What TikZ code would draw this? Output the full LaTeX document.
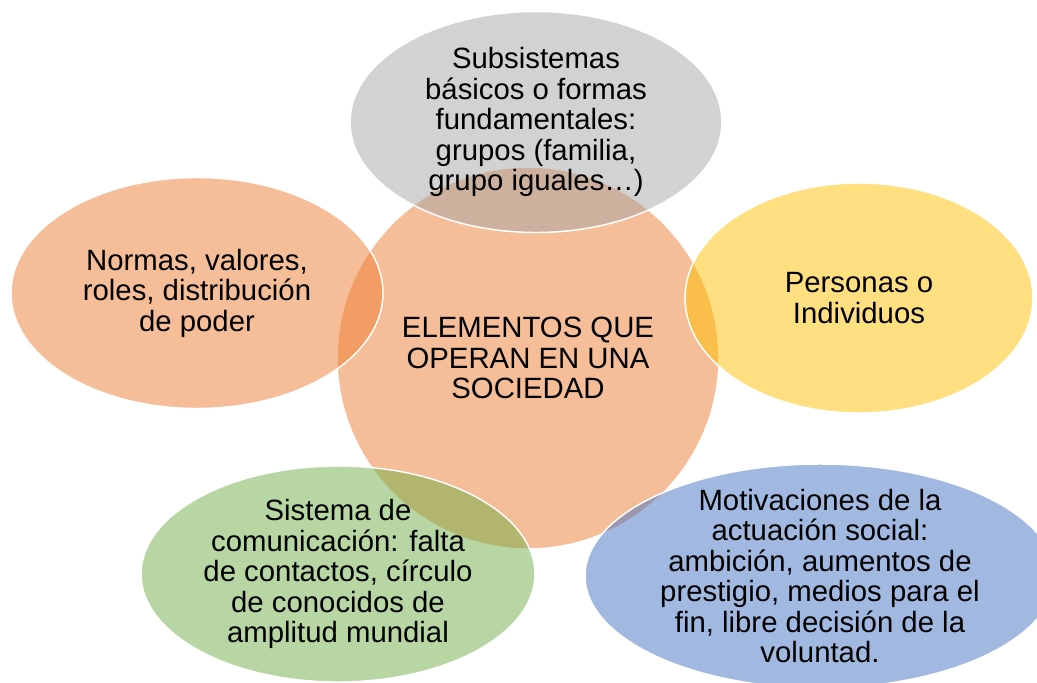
\documentclass[tikz,border=0pt]{standalone}
\usepackage{fontspec}
\setmainfont{Liberation Sans}
\usepackage{tikz}
\usetikzlibrary{shapes.geometric}
\definecolor{accorange}{HTML}{ED7D31}
\definecolor{accgray}{HTML}{A5A5A5}
\definecolor{accyellow}{HTML}{FFC000}
\definecolor{accblue}{HTML}{4472C4}
\definecolor{accgreen}{HTML}{70AD47}

\begin{document}
\begin{tikzpicture}[x=.75pt, y=-.75pt,
    bubble/.style={ellipse, draw=white, line width=1.1pt, fill opacity=.5, draw opacity=1, inner sep=0, outer sep=0},
    txt/.style={align=center, font=\fontsize{22}{22.9}\selectfont, inner sep=0}]
  \useasboundingbox (0,0) rectangle (1037,682);
  \clip (0,0) rectangle (1037,682);
  \node [bubble, circle, fill=accorange, minimum size=286.5pt] (soc) at (528,358) {};
  \node [bubble, fill=accgray, minimum width=279pt, minimum height=165.75pt] (subs) at (536,122) {};
  \node [bubble, fill=accorange, minimum width=279pt, minimum height=173.25pt] (norm) at (197,293) {};
  \node [bubble, fill=accyellow, minimum width=261pt, minimum height=172.5pt] (pers) at (859,298) {};
  \node [bubble, fill=accgreen, minimum width=295.5pt, minimum height=162pt] (com) at (338,574) {};
  \node [bubble, fill=accblue, minimum width=352.5pt, minimum height=168pt] (mot) at (820,576) {};
  \node [txt] (soct) at (soc) {ELEMENTOS QUE\\OPERAN EN UNA\\SOCIEDAD};
  \node [txt] (subst) at (subs) {Subsistemas\\básicos o formas\\fundamentales:\\grupos (familia,\\grupo iguales…)};
  \node [txt] (normt) at (norm) {Normas, valores,\\roles, distribución\\de poder};
  \node [txt] (perst) at (pers) {Personas o\\Individuos};
  \node [txt] (comt) at (com) {Sistema de\\comunicación: falta\\de contactos, círculo\\de conocidos de\\amplitud mundial};
  \node [txt] (mott) at (mot) {Motivaciones de la\\actuación social:\\ambición, aumentos de\\prestigio, medios para el\\fin, libre decisión de la\\voluntad.};
\end{tikzpicture}
\end{document}
